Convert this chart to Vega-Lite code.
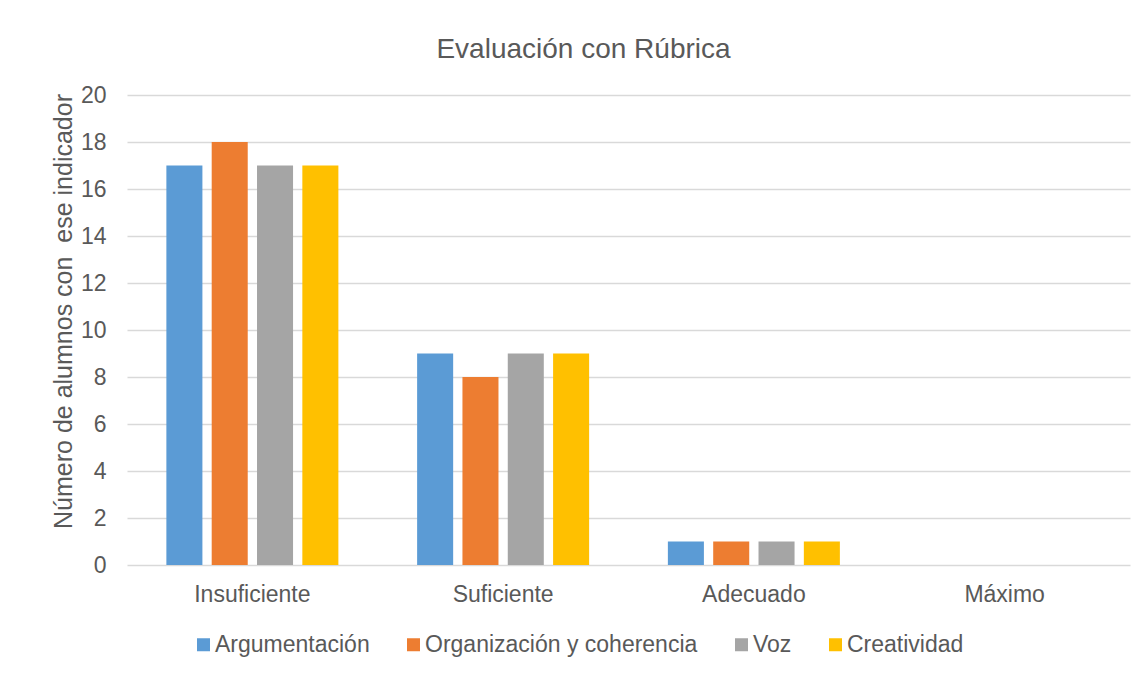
{
  "$schema": "https://vega.github.io/schema/vega-lite/v6.json",
  "width": 1003,
  "height": 470,
  "autosize": {"type": "none"},
  "padding": {"left": 127, "top": 95, "right": 16, "bottom": 112},
  "background": "white",
  "title": {
    "text": "Evaluación con Rúbrica",
    "fontSize": 28,
    "font": "Liberation Sans",
    "fontWeight": "normal",
    "color": "#595959",
    "anchor": "middle",
    "dx": -45,
    "baseline": "alphabetic",
    "offset": -2
  },
  "data": {
    "values": [
      {"nivel": "Insuficiente", "criterio": "Argumentación", "alumnos": 17},
      {"nivel": "Insuficiente", "criterio": "Organización y coherencia", "alumnos": 18},
      {"nivel": "Insuficiente", "criterio": "Voz", "alumnos": 17},
      {"nivel": "Insuficiente", "criterio": "Creatividad", "alumnos": 17},
      {"nivel": "Suficiente", "criterio": "Argumentación", "alumnos": 9},
      {"nivel": "Suficiente", "criterio": "Organización y coherencia", "alumnos": 8},
      {"nivel": "Suficiente", "criterio": "Voz", "alumnos": 9},
      {"nivel": "Suficiente", "criterio": "Creatividad", "alumnos": 9},
      {"nivel": "Adecuado", "criterio": "Argumentación", "alumnos": 1},
      {"nivel": "Adecuado", "criterio": "Organización y coherencia", "alumnos": 1},
      {"nivel": "Adecuado", "criterio": "Voz", "alumnos": 1},
      {"nivel": "Adecuado", "criterio": "Creatividad", "alumnos": 1},
      {"nivel": "Máximo", "criterio": "Argumentación", "alumnos": 0},
      {"nivel": "Máximo", "criterio": "Organización y coherencia", "alumnos": 0},
      {"nivel": "Máximo", "criterio": "Voz", "alumnos": 0},
      {"nivel": "Máximo", "criterio": "Creatividad", "alumnos": 0}
    ]
  },
  "mark": {"type": "bar"},
  "encoding": {
    "x": {
      "field": "nivel",
      "type": "nominal",
      "sort": ["Insuficiente", "Suficiente", "Adecuado", "Máximo"],
      "scale": {"paddingInner": 0.277, "paddingOuter": 0.1385},
      "axis": {
        "title": null,
        "labelAngle": 0,
        "labelFontSize": 23,
        "labelFont": "Liberation Sans",
        "labelColor": "#595959",
        "labelBaseline": "alphabetic",
        "labelPadding": 36,
        "ticks": false,
        "tickSize": 0,
        "domain": false,
        "grid": false
      }
    },
    "xOffset": {
      "field": "criterio",
      "type": "nominal",
      "sort": ["Argumentación", "Organización y coherencia", "Voz", "Creatividad"],
      "scale": {"paddingInner": 0.205, "paddingOuter": 0.1025}
    },
    "y": {
      "field": "alumnos",
      "type": "quantitative",
      "scale": {"domain": [0, 20], "nice": false},
      "axis": {
        "title": "Número de alumnos con \u00a0ese indicador",
        "titleFontSize": 25,
        "titleFont": "Liberation Sans",
        "titleFontWeight": "normal",
        "titleColor": "#595959",
        "titleX": -64,
        "titleY": 216,
        "titleAlign": "center",
        "titleBaseline": "middle",
        "titleAngle": 270,
        "values": [0, 2, 4, 6, 8, 10, 12, 14, 16, 18, 20],
        "labelFontSize": 23,
        "labelFont": "Liberation Sans",
        "labelColor": "#595959",
        "labelPadding": 21,
        "ticks": false,
        "tickSize": 0,
        "domain": false,
        "grid": true,
        "gridColor": "#d9d9d9",
        "gridWidth": 1.3
      }
    },
    "color": {
      "field": "criterio",
      "type": "nominal",
      "sort": ["Argumentación", "Organización y coherencia", "Voz", "Creatividad"],
      "scale": {
        "domain": ["Argumentación", "Organización y coherencia", "Voz", "Creatividad"],
        "range": ["#5B9BD5", "#ED7D31", "#A5A5A5", "#FFC000"]
      },
      "legend": {
        "title": null,
        "orient": "none",
        "direction": "horizontal",
        "columns": 4,
        "legendX": 65,
        "legendY": 538,
        "symbolType": "square",
        "symbolSize": 169,
        "symbolStrokeWidth": 0,
        "symbolOpacity": 1,
        "labelFontSize": 23,
        "labelFont": "Liberation Sans",
        "labelColor": "#595959",
        "labelOffset": 0,
        "columnPadding": 32,
        "labelLimit": 400
      }
    }
  },
  "config": {
    "view": {"stroke": null},
    "font": "Liberation Sans"
  }
}
